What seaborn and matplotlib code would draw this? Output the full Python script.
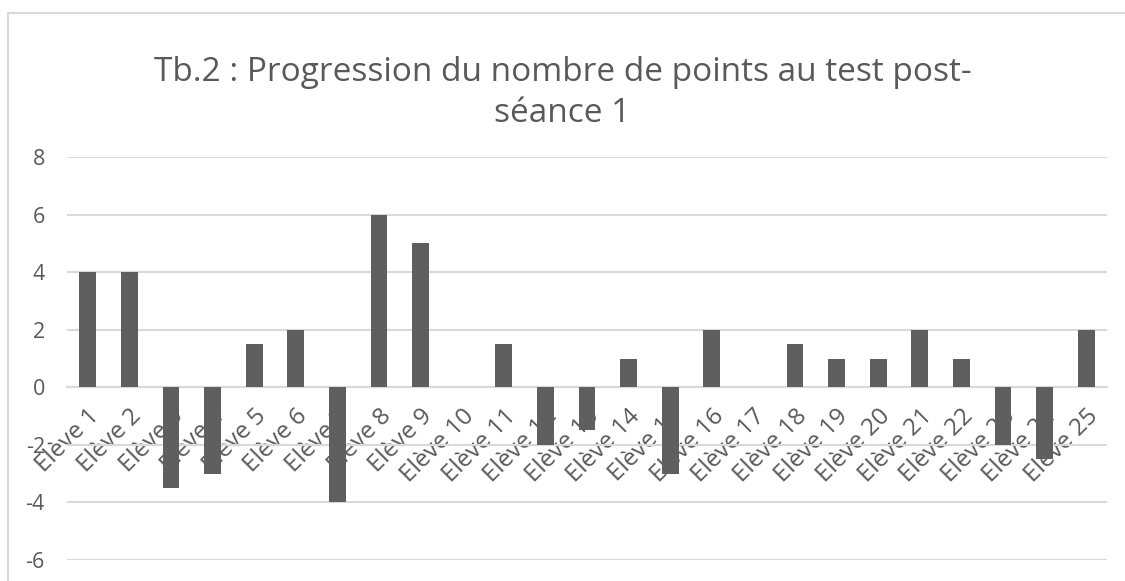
import matplotlib
matplotlib.use("Agg")
import matplotlib.pyplot as plt
import seaborn as sns
import pandas as pd
from matplotlib.patches import Rectangle

# data
eleves = ["Elève %d" % i for i in range(1, 26)]
progression = [4, 4, -3.5, -3, 1.5, 2, -4, 6, 5, 0,
               1.5, -2, -1.5, 1, -3, 2, 0, 1.5, 1, 1,
               2, 1, -2, -2.5, 2]
yticks = [-6, -4, -2, 0, 2, 4, 6, 8]
titre = "Tb.2 : Progression du nombre de points au test post-\nséance 1"

df = pd.DataFrame({"eleve": eleves, "points": progression})

sns.set_theme(style="white")
plt.rcParams["font.family"] = ["Open Sans", "DejaVu Sans"]

txt = "#595959"
grid = "#d9d9d9"

fig = plt.figure(figsize=(11.25, 5.81), dpi=100)
W, H = 1125, 581
ax = fig.add_axes([67 / W, 1 - 560 / H, (1107 - 67) / W, (560 - 157) / H])

sns.barplot(data=df, x="eleve", y="points", color="#5f5f5f", width=0.4,
            saturation=1, linewidth=0, ax=ax, zorder=3)

ax.set_ylim(-6, 8)
ax.set_xlim(-0.5, len(eleves) - 0.5)
ax.set_yticks(yticks)
ax.set_yticklabels([str(v) for v in yticks], color=txt, fontsize=15.5)
for v in yticks:
    ax.axhline(v, color=grid, lw=1.5, zorder=1)

for s in ["top", "right", "left"]:
    ax.spines[s].set_visible(False)
ax.spines["bottom"].set_position(("data", 0))
ax.spines["bottom"].set_color(grid)
ax.spines["bottom"].set_linewidth(1.5)
ax.spines["bottom"].set_zorder(2)

ax.set_xticks(range(len(eleves)))
ax.set_xticklabels(eleves, rotation=45, ha="right", va="top",
                   rotation_mode="anchor", color=txt, fontsize=17.5)
ax.tick_params(axis="x", length=0, pad=12)
ax.tick_params(axis="y", length=0, pad=16)
for lab in ax.get_xticklabels():
    lab.set_zorder(5)
ax.set_xlabel("")
ax.set_ylabel("")

fig.text(0.5, 1 - 93 / H, titre, ha="center", va="center", color=txt,
         fontsize=24, linespacing=1.33)

# outer chart frame (cropped on right and bottom)
fig.add_artist(Rectangle((8 / W, -0.1), 1.2, 1 - 13 / H + 0.1,
                         transform=fig.transFigure, fill=False,
                         edgecolor=grid, lw=1.5, clip_on=False))

fig.savefig("out.png", dpi=100)
